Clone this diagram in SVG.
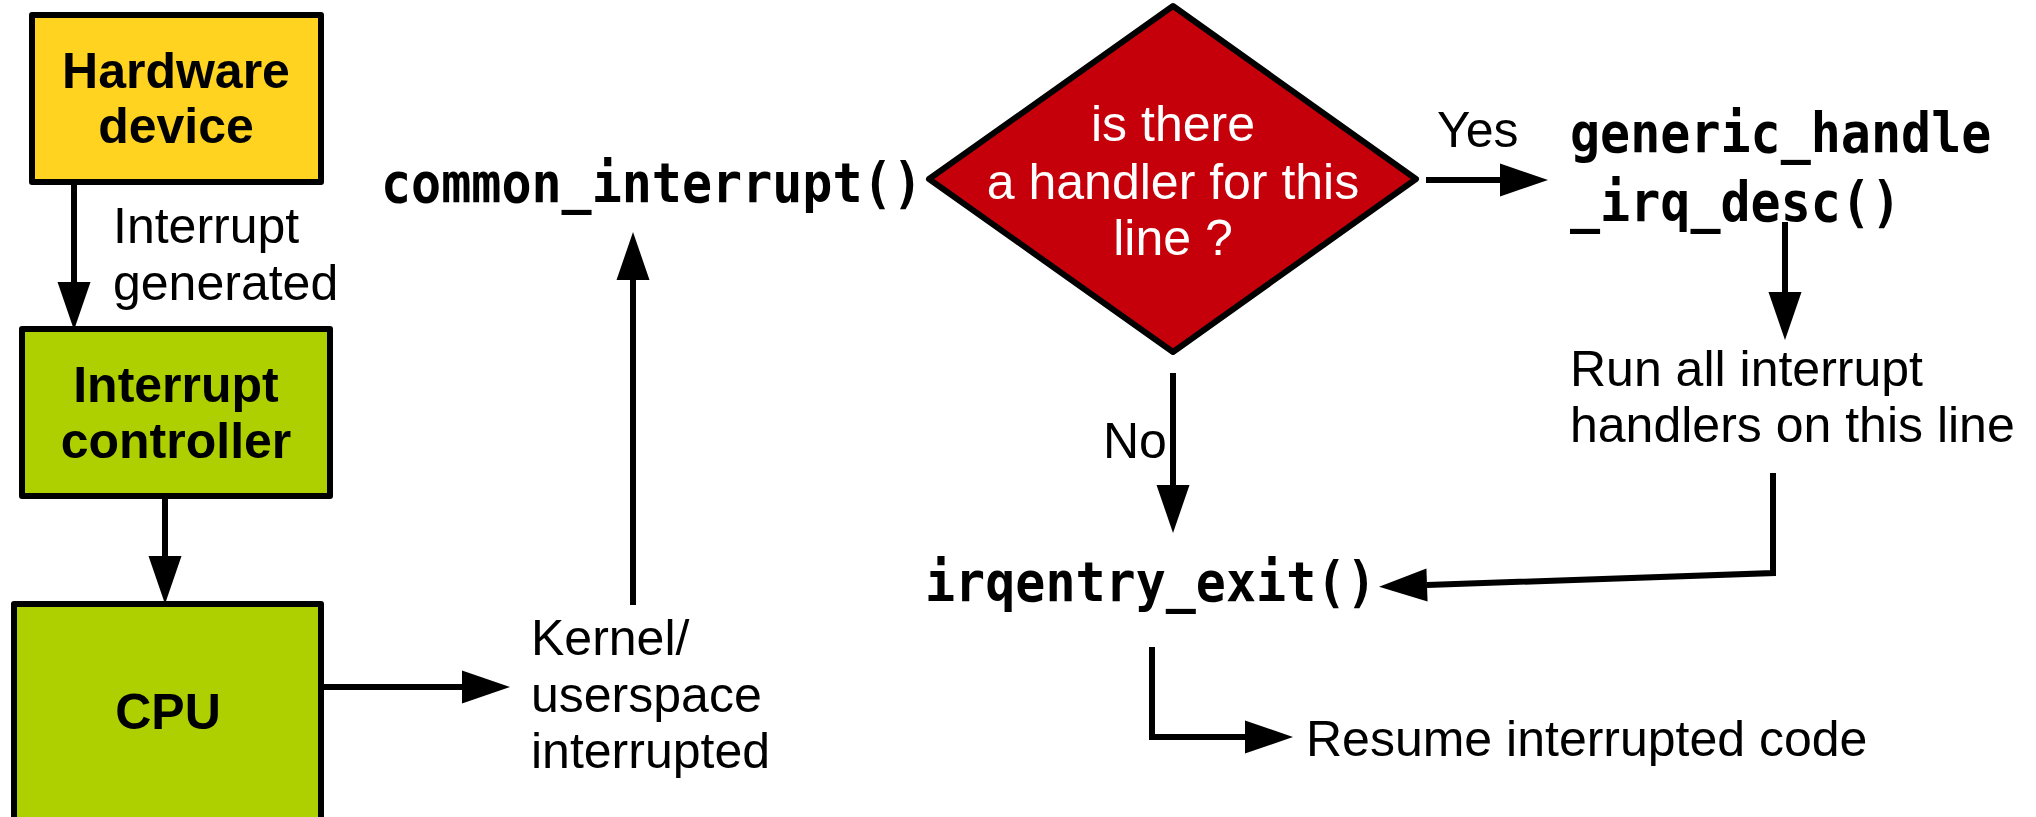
<svg xmlns="http://www.w3.org/2000/svg" width="2036" height="817" viewBox="0 0 2036 817">
<style>
.box{stroke:#000;stroke-width:6;stroke-linejoin:round}
.yel{fill:#FFD320}
.grn{fill:#AECF00}
.dia{fill:#C5000B;stroke:#000;stroke-width:6;stroke-linejoin:round}
.t{font-family:"Liberation Sans",Arial,sans-serif;font-size:50px;fill:#000}
.bt{font-family:"Liberation Sans",Arial,sans-serif;font-size:50px;font-weight:bold;fill:#000}
.w{fill:#fff}
.m{font-family:"DejaVu Sans Mono","Liberation Mono",monospace;font-size:50px;font-weight:bold;fill:#000}
.c{fill:none;stroke:#000;stroke-width:6;marker-end:url(#ah)}
</style>
<defs>
<marker id="ah" markerUnits="userSpaceOnUse" markerWidth="50" markerHeight="34" refX="0" refY="16.5" orient="auto" overflow="visible">
<path d="M0,0 L48,16.5 L0,33 z" fill="#000"/>
</marker>
</defs>
<rect width="2036" height="817" fill="#fff"/>
<g id="connectors">
<path class="c" d="M74,182 V282"/>
<path class="c" d="M165,496 V556"/>
<path class="c" d="M321,687 H462"/>
<path class="c" d="M633,605 V280"/>
<path class="c" d="M1426,180 H1500"/>
<path class="c" d="M1173,373 V485"/>
<path class="c" d="M1785,222 V292"/>
<path class="c" d="M1773,473 V573 L1427,585"/>
<path class="c" d="M1152,647 V737 H1245"/>
</g>
<g id="hardware">
<rect class="box yel" x="32" y="15" width="289" height="167"/>
<text class="bt" x="176" y="88" text-anchor="middle">Hardware</text>
<text class="bt" x="176" y="143" text-anchor="middle">device</text>
</g>
<g id="label-generated">
<text class="t" x="113" y="243">Interrupt</text>
<text class="t" x="113" y="300">generated</text>
</g>
<g id="controller">
<rect class="box grn" x="22" y="329" width="308" height="167"/>
<text class="bt" x="176" y="402" text-anchor="middle">Interrupt</text>
<text class="bt" x="176" y="458" text-anchor="middle">controller</text>
</g>
<g id="cpu">
<rect class="box grn" x="14" y="604" width="307" height="240"/>
<text class="bt" x="168" y="729" text-anchor="middle">CPU</text>
</g>
<g id="kernel">
<text class="t" x="531" y="655">Kernel/</text>
<text class="t" x="531" y="712">userspace</text>
<text class="t" x="531" y="768">interrupted</text>
</g>
<g id="common-interrupt">
<text class="m" transform="translate(381,202) scale(1,1.1)">common_interrupt()</text>
</g>
<g id="decision">
<polygon class="dia" points="1173,6 1416,179 1173,352 929,179"/>
<text class="t w" x="1173" y="141" text-anchor="middle">is there</text>
<text class="t w" x="1173" y="199" text-anchor="middle">a handler for this</text>
<text class="t w" x="1173" y="255" text-anchor="middle">line ?</text>
</g>
<g id="label-yes">
<text class="t" x="1437" y="147">Yes</text>
</g>
<g id="label-no">
<text class="t" x="1103" y="458">No</text>
</g>
<g id="generic-handle">
<text class="m" transform="translate(1570,152) scale(1,1.1)">generic_handle</text>
<text class="m" transform="translate(1570,221) scale(1,1.1)">_irq_desc()</text>
</g>
<g id="run-handlers">
<text class="t" x="1570" y="386">Run all interrupt</text>
<text class="t" x="1570" y="442">handlers on this line</text>
</g>
<g id="irqentry-exit">
<text class="m" transform="translate(925,601) scale(1,1.1)">irqentry_exit()</text>
</g>
<g id="resume">
<text class="t" x="1306" y="756">Resume interrupted code</text>
</g>
</svg>
